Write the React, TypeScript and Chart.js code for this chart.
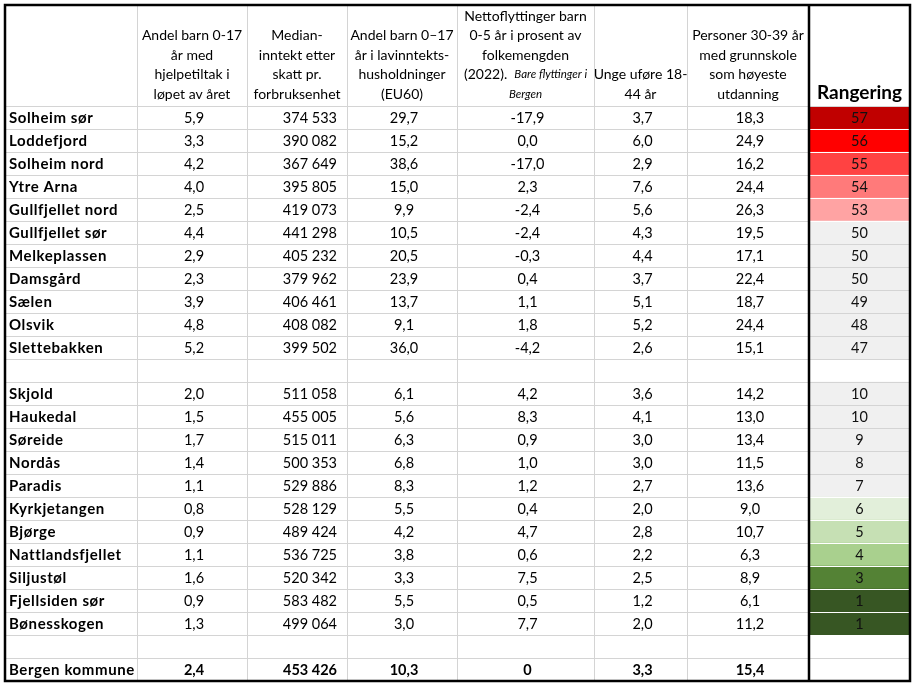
import React, { useEffect, useRef } from 'react';
import { Chart, registerables } from 'chart.js';

Chart.register(...registerables);

// ---------- DATA ----------
const areas = [
  'Solheim sør', 'Loddefjord', 'Solheim nord', 'Ytre Arna', 'Gullfjellet nord',
  'Gullfjellet sør', 'Melkeplassen', 'Damsgård', 'Sælen', 'Olsvik', 'Slettebakken',
  'Skjold', 'Haukedal', 'Søreide', 'Nordås', 'Paradis', 'Kyrkjetangen', 'Bjørge',
  'Nattlandsfjellet', 'Siljustøl', 'Fjellsiden sør', 'Bønesskogen',
];
const firstGroupSize = 11;

const hjelpetiltak = [5.9, 3.3, 4.2, 4.0, 2.5, 4.4, 2.9, 2.3, 3.9, 4.8, 5.2,
  2.0, 1.5, 1.7, 1.4, 1.1, 0.8, 0.9, 1.1, 1.6, 0.9, 1.3];
const medianInntekt = [374533, 390082, 367649, 395805, 419073, 441298, 405232, 379962, 406461, 408082, 399502,
  511058, 455005, 515011, 500353, 529886, 528129, 489424, 536725, 520342, 583482, 499064];
const lavinntekt = [29.7, 15.2, 38.6, 15.0, 9.9, 10.5, 20.5, 23.9, 13.7, 9.1, 36.0,
  6.1, 5.6, 6.3, 6.8, 8.3, 5.5, 4.2, 3.8, 3.3, 5.5, 3.0];
const nettoflytting = [-17.9, 0.0, -17.0, 2.3, -2.4, -2.4, -0.3, 0.4, 1.1, 1.8, -4.2,
  4.2, 8.3, 0.9, 1.0, 1.2, 0.4, 4.7, 0.6, 7.5, 0.5, 7.7];
const ungeUfore = [3.7, 6.0, 2.9, 7.6, 5.6, 4.3, 4.4, 3.7, 5.1, 5.2, 2.6,
  3.6, 4.1, 3.0, 3.0, 2.7, 2.0, 2.8, 2.2, 2.5, 1.2, 2.0];
const grunnskole = [18.3, 24.9, 16.2, 24.4, 26.3, 19.5, 17.1, 22.4, 18.7, 24.4, 15.1,
  14.2, 13.0, 13.4, 11.5, 13.6, 9.0, 10.7, 6.3, 8.9, 6.1, 11.2];
const rangering = [57, 56, 55, 54, 53, 50, 50, 50, 49, 48, 47,
  10, 10, 9, 8, 7, 6, 5, 4, 3, 1, 1];

const totalLabel = 'Bergen kommune';
const totals = [2.4, 453426, 10.3, 0, 3.3, 15.4];
const totalDecimals = [1, 0, 1, 0, 1, 1];

type Seg = string | { t: string; small: true };
const headerLines: Seg[][][] = [
  [['Andel barn 0-17'], ['år med'], ['hjelpetiltak i'], ['løpet av året']],
  [['Median-'], ['inntekt etter'], ['skatt pr.'], ['forbruksenhet']],
  [['Andel barn 0–17'], ['år i lavinntekts-'], ['husholdninger'], ['(EU60)']],
  [['Nettoflyttinger barn'], ['0-5 år i prosent av'], ['folkemengden'],
    ['(2022).  ', { t: 'Bare flyttinger i', small: true }], [{ t: 'Bergen', small: true }]],
  [['Unge uføre 18-'], ['44 år']],
  [['Personer 30-39 år'], ['med grunnskole'], ['som høyeste'], ['utdanning']],
];
const rankHeader = 'Rangering';

// ---------- LAYOUT / STYLE ----------
const colWidths = [132, 110, 100, 110, 137, 93, 122, 101];
const edges = colWidths.reduce((a, w) => { a.push(a[a.length - 1] + w); return a; }, [0] as number[]);
const totalWidth = edges[edges.length - 1];
const headerHeight = 101;
const FONT = 'Lato, "Liberation Sans", sans-serif';
const BASE = 14.5;
const HEAD = 14;
const GRID = '#d4d4d4';

function rankColor(r: number): string {
  const map: Record<number, string> = {
    57: '#C00000', 56: '#FF0000', 55: '#FF4242', 54: '#FF7A7A', 53: '#FFA3A3',
    6: '#E2EFDA', 5: '#C6E0B4', 4: '#A9D08E', 3: '#548235', 1: '#375623',
  };
  return map[r] || '#F0F0F0';
}
const isGrey = (r: number | null) => r == null || rankColor(r) === '#F0F0F0';

function fmt(v: number, dec: number): string {
  if (dec === 0) return Math.round(v).toString().replace(/\B(?=(\d{3})+(?!\d))/g, ' ');
  return v.toFixed(dec).replace('.', ',');
}

type Row = { label: string; values: string[] | null; rank: number | null; bold: boolean };

function buildRows(): Row[] {
  const rows: Row[] = [];
  const mk = (i: number): Row => ({
    label: areas[i],
    values: [fmt(hjelpetiltak[i], 1), fmt(medianInntekt[i], 0), fmt(lavinntekt[i], 1),
      fmt(nettoflytting[i], 1), fmt(ungeUfore[i], 1), fmt(grunnskole[i], 1)],
    rank: rangering[i],
    bold: false,
  });
  for (let i = 0; i < firstGroupSize; i++) rows.push(mk(i));
  rows.push({ label: '', values: null, rank: null, bold: false });
  for (let i = firstGroupSize; i < areas.length; i++) rows.push(mk(i));
  rows.push({ label: '', values: null, rank: null, bold: false });
  rows.push({ label: totalLabel, values: totals.map((v, k) => fmt(v, totalDecimals[k])), rank: null, bold: true });
  return rows;
}

export default function App() {
  const ref = useRef<HTMLCanvasElement>(null);
  useEffect(() => {
    document.body.style.margin = '0';
    const canvas = ref.current!;
    const rows = buildRows();
    const n = rows.length;

    const tablePlugin = {
      id: 'tablePlugin',
      afterDraw(chart: any) {
        const { ctx, chartArea, scales } = chart;
        const x = scales.x, y = scales.y;
        const left = chartArea.left, right = chartArea.right, bottom = chartArea.bottom;
        const top = chartArea.top - headerHeight;
        const px = (u: number) => x.getPixelForValue(u);
        const crisp = (v: number) => Math.round(v) + 0.5;
        const boundary = (i: number) => (i <= 0 ? chartArea.top : i >= n ? bottom : (y.getPixelForValue(i - 1) + y.getPixelForValue(i)) / 2);

        ctx.save();
        // vertical grid lines
        ctx.lineWidth = 1;
        ctx.strokeStyle = GRID;
        for (let k = 1; k < edges.length - 2; k++) {
          const xx = crisp(px(edges[k]));
          ctx.beginPath(); ctx.moveTo(xx, top); ctx.lineTo(xx, bottom); ctx.stroke();
        }
        // horizontal grid lines
        const rankL = px(edges[7]);
        for (let i = 0; i < n; i++) {
          const yy = crisp(boundary(i));
          ctx.strokeStyle = GRID;
          ctx.beginPath(); ctx.moveTo(left, yy); ctx.lineTo(rankL, yy); ctx.stroke();
          const above = i > 0 ? rows[i - 1].rank : null;
          const below = rows[i].rank;
          ctx.strokeStyle = (!isGrey(above) || !isGrey(below)) ? '#ffffff' : GRID;
          if (i === 0 && !isGrey(below)) ctx.strokeStyle = GRID;
          ctx.beginPath(); ctx.moveTo(rankL, yy); ctx.lineTo(right, yy); ctx.stroke();
        }
        const lastY = crisp(boundary(n - 1));
        ctx.strokeStyle = GRID;
        ctx.beginPath(); ctx.moveTo(left, lastY); ctx.lineTo(right, lastY); ctx.stroke();

        // header text
        ctx.fillStyle = '#000';
        ctx.textBaseline = 'middle';
        const lineGap = 19.5;
        const lastCenter = top + 88;
        headerLines.forEach((lines, c) => {
          const cx = px((edges[c + 1] + edges[c + 2]) / 2);
          lines.forEach((segs, li) => {
            const cy = lastCenter - (lines.length - 1 - li) * lineGap;
            const fonts = segs.map(s => typeof s === 'string' ? `${HEAD}px ${FONT}` : `italic 11.5px ${FONT}`);
            const texts = segs.map(s => typeof s === 'string' ? s : s.t);
            let w = 0;
            const ws = texts.map((t, k) => { ctx.font = fonts[k]; const m = ctx.measureText(t).width; w += m; return m; });
            let sx = cx - w / 2;
            ctx.textAlign = 'left';
            texts.forEach((t, k) => { ctx.font = fonts[k]; ctx.fillText(t, sx, cy + 1); sx += ws[k]; });
          });
        });
        ctx.font = `bold 19px ${FONT}`;
        ctx.textAlign = 'center';
        ctx.textBaseline = 'alphabetic';
        ctx.fillText(rankHeader, px((edges[7] + edges[8]) / 2), top + 94);

        // body text
        ctx.textBaseline = 'middle';
        rows.forEach((r, i) => {
          const cy = y.getPixelForValue(i) + 1;
          if (r.label) {
            ctx.font = `bold 15px ${FONT}`;
            (ctx as any).letterSpacing = '0.6px';
            ctx.textAlign = 'left';
            ctx.fillText(r.label, left + 4, cy);
            (ctx as any).letterSpacing = '0px';
          }
          if (r.values) {
            ctx.font = `${r.bold ? 'bold ' : ''}${BASE}px ${FONT}`;
            r.values.forEach((v, c) => {
              if (c === 1) {
                ctx.textAlign = 'right';
                ctx.fillText(v, px(edges[c + 2]) - 10, cy);
              } else {
                ctx.textAlign = 'center';
                ctx.fillText(v, px((edges[c + 1] + edges[c + 2]) / 2) + 2, cy);
              }
            });
          }
          if (r.rank != null) {
            ctx.font = `${BASE}px ${FONT}`;
            ctx.textAlign = 'center';
            ctx.fillStyle = '#111';
            ctx.fillText(String(r.rank), px((edges[7] + edges[8]) / 2), cy);
            ctx.fillStyle = '#000';
          }
        });

        // thick black lines
        ctx.strokeStyle = '#000';
        ctx.lineWidth = 2.5;
        ctx.strokeRect(left, top, right - left, bottom - top);
        ctx.beginPath(); ctx.moveTo(rankL, top); ctx.lineTo(rankL, bottom); ctx.stroke();
        ctx.restore();
      },
    };

    const chart = new Chart(canvas, {
      type: 'bar',
      data: {
        labels: rows.map((r, i) => r.label || ' '.repeat(i + 1)),
        datasets: [{
          data: rows.map(r => (r.rank == null ? null : [edges[7], edges[8]])) as any,
          backgroundColor: rows.map(r => (r.rank == null ? 'rgba(0,0,0,0)' : rankColor(r.rank))),
          borderWidth: 0,
          barPercentage: 1,
          categoryPercentage: 1,
        }],
      },
      options: {
        indexAxis: 'y',
        responsive: false,
        animation: false,
        devicePixelRatio: 1,
        events: [],
        layout: { padding: { left: 5, right: 4, top: 5 + headerHeight, bottom: 5 } },
        scales: {
          x: { type: 'linear', min: 0, max: totalWidth, display: false },
          y: { type: 'category', display: false },
        },
        plugins: { legend: { display: false }, tooltip: { enabled: false } },
      },
      plugins: [tablePlugin],
    });
    return () => chart.destroy();
  }, []);

  return (
    <div style={{ position: 'absolute', left: 0, top: 0, width: 914, height: 686, background: '#fff' }}>
      <canvas ref={ref} width={914} height={686} style={{ display: 'block', width: 914, height: 686 }} />
    </div>
  );
}
